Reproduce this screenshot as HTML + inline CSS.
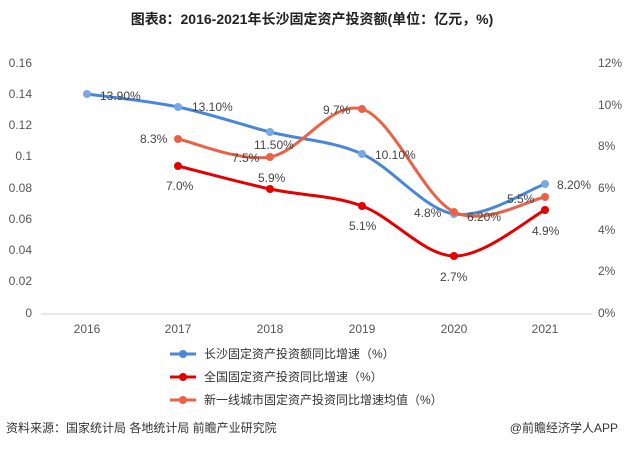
<!DOCTYPE html>
<html><head><meta charset="utf-8"><style>
body{margin:0;width:624px;height:449px;background:#fff;overflow:hidden;font-family:"Liberation Sans","Noto Sans CJK SC",sans-serif}
svg text{font-family:"Liberation Sans","Noto Sans CJK SC",sans-serif}
</style></head><body>
<svg id="s" width="624" height="449" viewBox="0 0 624 449" xmlns="http://www.w3.org/2000/svg">
<text x="312" y="24" text-anchor="middle" font-size="14" font-weight="bold" fill="#222">图表8：2016-2021年长沙固定资产投资额(单位：亿元，%)</text>
<g font-size="12" fill="#555">
<text x="32" y="67" text-anchor="end">0.16</text>
<text x="32" y="98" text-anchor="end">0.14</text>
<text x="32" y="129" text-anchor="end">0.12</text>
<text x="32" y="160" text-anchor="end">0.1</text>
<text x="32" y="192" text-anchor="end">0.08</text>
<text x="32" y="223" text-anchor="end">0.06</text>
<text x="32" y="254" text-anchor="end">0.04</text>
<text x="32" y="285" text-anchor="end">0.02</text>
<text x="32" y="317" text-anchor="end">0</text>
<text x="598" y="67">12%</text>
<text x="598" y="109">10%</text>
<text x="598" y="150">8%</text>
<text x="598" y="192">6%</text>
<text x="598" y="234">4%</text>
<text x="598" y="275">2%</text>
<text x="598" y="317">0%</text>
<text x="87" y="333" text-anchor="middle">2016</text>
<text x="178" y="333" text-anchor="middle">2017</text>
<text x="270" y="333" text-anchor="middle">2018</text>
<text x="362" y="333" text-anchor="middle">2019</text>
<text x="454" y="333" text-anchor="middle">2020</text>
<text x="545" y="333" text-anchor="middle">2021</text>
</g>
<line x1="41" y1="314" x2="592" y2="314" stroke="#d0d0d0" stroke-width="1"/>
<g id="lines"></g>
<g font-size="12" fill="#444">
<text x="100" y="100">13.90%</text>
<text x="192" y="111">13.10%</text>
<text x="254" y="149">11.50%</text>
<text x="375" y="159">10.10%</text>
<text x="467" y="221">6.20%</text>
<text x="557" y="189">8.20%</text>
<text x="166" y="190">7.0%</text>
<text x="258" y="182">5.9%</text>
<text x="349" y="230">5.1%</text>
<text x="440" y="281">2.7%</text>
<text x="532" y="235">4.9%</text>
<text x="140" y="143">8.3%</text>
<text x="232" y="162">7.5%</text>
<text x="323" y="114">9.7%</text>
<text x="414" y="217">4.8%</text>
<text x="507" y="203">5.5%</text>
</g>
<g font-size="12" fill="#333">
<line x1="170" y1="354" x2="196" y2="354" stroke="#4a86d8" stroke-width="3"/><circle cx="183" cy="354" r="4" fill="#4a86d8"/>
<text x="204" y="358">长沙固定资产投资额同比增速（%）</text>
<line x1="170" y1="377" x2="196" y2="377" stroke="#e50000" stroke-width="3"/><circle cx="183" cy="377" r="4" fill="#e50000"/>
<text x="204" y="381">全国固定资产投资同比增速（%）</text>
<line x1="170" y1="400" x2="196" y2="400" stroke="#ea6244" stroke-width="3"/><circle cx="183" cy="400" r="4" fill="#ea6244"/>
<text x="204" y="404">新一线城市固定资产投资同比增速均值（%）</text>
</g>
<text x="6" y="432" font-size="12" fill="#333">资料来源：国家统计局 各地统计局 前瞻产业研究院</text>
<text x="618" y="432" font-size="12" fill="#333" text-anchor="end">@前瞻经济学人APP</text>
</svg>
<script>
var series=[
{c:"#4a86d8",m:"#7aa7e6",p:[[87,94],[178,107],[270,132],[362,154],[454,214],[545,184]]},
{c:"#e50000",m:"#e50000",p:[[178,166],[270,189],[362,206],[454,256],[545,210]]},
{c:"#ea6244",m:"#ea6244",p:[[178,139],[270,157],[362,109],[454,212],[545,197]]}];
var g=document.getElementById("lines"),ns="http://www.w3.org/2000/svg";
series.forEach(function(s){var p=s.p,d="M"+p[0][0]+","+p[0][1];
for(var i=0;i<p.length-1;i++){var p0=p[i-1]||p[i],p1=p[i],p2=p[i+1],p3=p[i+2]||p2,t=6;
d+=" C"+(p1[0]+(p2[0]-p0[0])/t)+","+(p1[1]+(p2[1]-p0[1])/t)+" "+(p2[0]-(p3[0]-p1[0])/t)+","+(p2[1]-(p3[1]-p1[1])/t)+" "+p2[0]+","+p2[1];}
var e=document.createElementNS(ns,"path");e.setAttribute("d",d);e.setAttribute("fill","none");e.setAttribute("stroke",s.c);e.setAttribute("stroke-width","3");g.appendChild(e);
p.forEach(function(q){var c=document.createElementNS(ns,"circle");c.setAttribute("cx",q[0]);c.setAttribute("cy",q[1]);c.setAttribute("r","4");c.setAttribute("fill",s.m);g.appendChild(c);});});
</script>
</body></html>
